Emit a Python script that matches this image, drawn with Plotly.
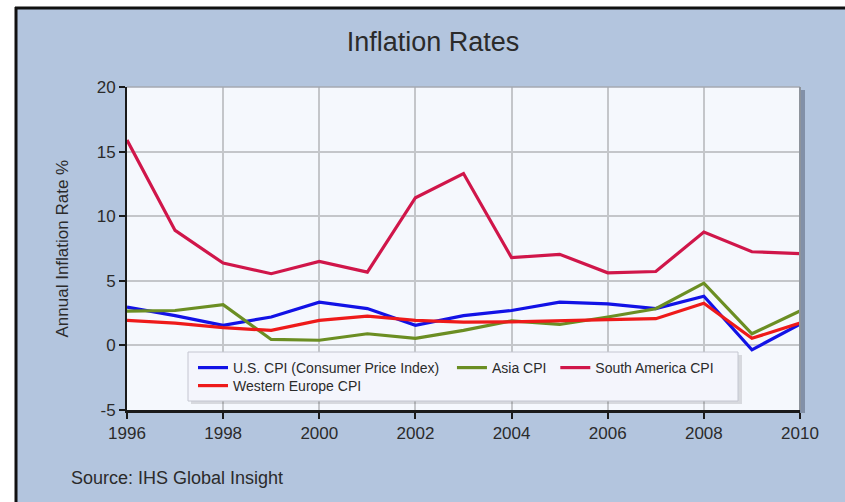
import plotly.graph_objects as go

years = list(range(1996, 2011))
us_cpi = [2.96, 2.3, 1.55, 2.2, 3.35, 2.85, 1.55, 2.3, 2.7, 3.35, 3.22, 2.85, 3.8, -0.34, 1.65]
asia_cpi = [2.66, 2.7, 3.15, 0.46, 0.4, 0.9, 0.55, 1.16, 1.9, 1.62, 2.2, 2.84, 4.82, 0.9, 2.66]
south_america_cpi = [15.9, 8.9, 6.37, 5.55, 6.5, 5.67, 11.43, 13.3, 6.79, 7.05, 5.62, 5.72, 8.77, 7.25, 7.1]
western_europe_cpi = [1.93, 1.72, 1.37, 1.16, 1.93, 2.27, 1.93, 1.8, 1.82, 1.88, 2.0, 2.07, 3.27, 0.55, 1.73]

x_ticks = [1996, 1998, 2000, 2002, 2004, 2006, 2008, 2010]
y_ticks = [-5, 0, 5, 10, 15, 20]

W, H = 845, 502
ML, MR, MT, MB = 127, 45, 87, 92
PW, PH = W - ML - MR, H - MT - MB


def px(x):
    return (x - ML) / PW


def py(y):
    return (H - MB - y) / PH


FONT = "Liberation Sans, Arial, sans-serif"
TXT = "#2b2b2b"
NB = "\u00a0"

fig = go.Figure()
fig.add_trace(go.Scatter(x=years, y=us_cpi, mode="lines", name="U.S. CPI (Consumer Price Index)" + NB * 2,
                         line=dict(color="#1212E6", width=3.2), legend="legend"))
fig.add_trace(go.Scatter(x=years, y=asia_cpi, mode="lines", name="Asia CPI" + NB,
                         line=dict(color="#6B8E23", width=3.2), legend="legend"))
fig.add_trace(go.Scatter(x=years, y=south_america_cpi, mode="lines", name="South America CPI",
                         line=dict(color="#D0164A", width=3.2), legend="legend"))
fig.add_trace(go.Scatter(x=years, y=western_europe_cpi, mode="lines", name="Western Europe CPI",
                         line=dict(color="#EE1A1A", width=3.2), legend="legend2"))

shapes = [
    # outer panel
    dict(type="rect", xref="paper", yref="paper", layer="below",
         x0=px(16), x1=px(900), y0=py(560), y1=py(8),
         fillcolor="#B3C5DE", line=dict(width=0)),
    # black border: top and left
    dict(type="line", xref="paper", yref="paper", layer="below",
         x0=px(15), x1=px(900), y0=py(8), y1=py(8), line=dict(color="#111111", width=3)),
    dict(type="line", xref="paper", yref="paper", layer="below",
         x0=px(16), x1=px(16), y0=py(7), y1=py(560), line=dict(color="#111111", width=3)),
    # plot shadow
    dict(type="rect", xref="paper", yref="paper", layer="below",
         x0=px(131), x1=px(805), y0=py(413), y1=py(90),
         fillcolor="rgba(70,80,100,0.45)", line=dict(width=0)),
    # plot area fill
    dict(type="rect", xref="paper", yref="paper", layer="below",
         x0=0, x1=1, y0=0, y1=1,
         fillcolor="#F5F8FD", line=dict(width=0)),
    # top and right plot edges
    dict(type="line", xref="paper", yref="paper", layer="above",
         x0=0, x1=1, y0=1, y1=1, line=dict(color="#A4A8B0", width=1.5)),
    dict(type="line", xref="paper", yref="paper", layer="above",
         x0=1, x1=1, y0=0, y1=1, line=dict(color="#8E949C", width=2)),
    # legend shadow and box
    dict(type="rect", xref="paper", yref="paper", layer="above",
         x0=px(191), x1=px(742), y0=py(404), y1=py(355),
         fillcolor="rgba(0,0,0,0.12)", line=dict(width=0)),
    dict(type="rect", xref="paper", yref="paper", layer="above",
         x0=px(188), x1=px(738), y0=py(401), y1=py(352),
         fillcolor="#F4F5FC", line=dict(color="#C4C6D0", width=1)),
]

annotations = [
    dict(text="Annual Inflation Rate %", xref="paper", yref="paper",
         x=px(62), y=0.5, xanchor="center", yanchor="middle", textangle=-90,
         showarrow=False, font=dict(family=FONT, size=17, color=TXT)),
    dict(text="Source: IHS Global Insight", xref="paper", yref="paper",
         x=px(69), y=py(478), xanchor="left", yanchor="middle",
         showarrow=False, font=dict(family=FONT, size=18, color=TXT)),
]

fig.update_layout(
    width=W, height=H,
    margin=dict(l=ML, r=MR, t=MT, b=MB, autoexpand=False),
    paper_bgcolor="white",
    plot_bgcolor="rgba(0,0,0,0)",
    title=dict(text="Inflation Rates", x=px(433), xref="paper", xanchor="center",
               y=1 - 42 / H, yref="container", yanchor="middle",
               font=dict(family=FONT, size=27, color=TXT)),
    font=dict(family=FONT, color=TXT),
    shapes=shapes,
    annotations=annotations,
    showlegend=True,
    legend=dict(orientation="h", x=px(193), y=py(352), xanchor="left", yanchor="top",
                bgcolor="rgba(0,0,0,0)", borderwidth=0,
                font=dict(family=FONT, size=14, color=TXT), itemwidth=30),
    legend2=dict(orientation="h", x=px(193), y=py(370), xanchor="left", yanchor="top",
                 bgcolor="rgba(0,0,0,0)", borderwidth=0,
                 font=dict(family=FONT, size=14, color=TXT), itemwidth=30),
)

fig.update_xaxes(range=[1996, 2010], tickvals=x_ticks, ticktext=[str(v) for v in x_ticks],
                 showgrid=True, gridcolor="#C4C6CA", gridwidth=1.5,
                 showline=True, linecolor="#1a1a1a", linewidth=3, mirror=False,
                 ticks="outside", ticklen=6, tickwidth=1.5, tickcolor="#1a1a1a",
                 tickfont=dict(family=FONT, size=17, color=TXT), zeroline=False,
                 fixedrange=True)
fig.update_yaxes(range=[-5, 20], tickvals=y_ticks, ticktext=[str(v) for v in y_ticks],
                 showgrid=True, gridcolor="#C4C6CA", gridwidth=1.5,
                 showline=True, linecolor="#1a1a1a", linewidth=2, mirror=False,
                 ticks="outside", ticklen=6, tickwidth=1.5, tickcolor="#1a1a1a",
                 tickfont=dict(family=FONT, size=17, color=TXT), zeroline=False,
                 fixedrange=True)

fig.write_html("out.html")
